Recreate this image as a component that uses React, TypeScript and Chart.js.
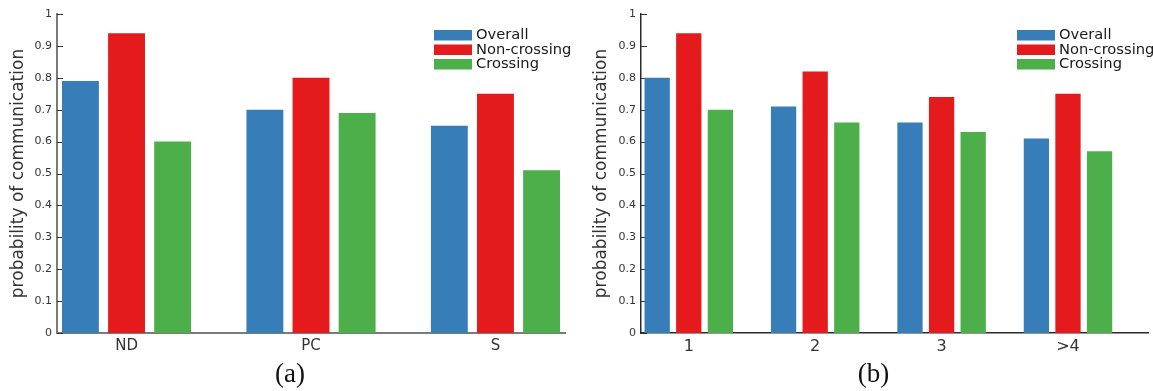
import React, { useEffect, useRef } from 'react';
import { Chart, registerables } from 'chart.js';

Chart.register(...registerables);

// Series shared by both panels
const seriesNames = ['Overall', 'Non-crossing', 'Crossing'];
const seriesColors = ['#377eb8', '#e41a1c', '#4daf4a'];

// Panel (a): by category
const panelACategories = ['ND', 'PC', 'S'];
const panelAOverall = [0.79, 0.7, 0.65];
const panelANonCrossing = [0.94, 0.8, 0.75];
const panelACrossing = [0.6, 0.69, 0.51];

// Panel (b): by count
const panelBCategories = ['1', '2', '3', '>4'];
const panelBOverall = [0.8, 0.71, 0.66, 0.61];
const panelBNonCrossing = [0.94, 0.82, 0.74, 0.75];
const panelBCrossing = [0.7, 0.66, 0.63, 0.57];

// Y axis
const yTickValues = [0, 0.1, 0.2, 0.3, 0.4, 0.5, 0.6, 0.7, 0.8, 0.9, 1];
const yTickLabels = ['0', '0.1', '0.2', '0.3', '0.4', '0.5', '0.6', '0.7', '0.8', '0.9', '1'];
const yAxisTitle = 'probability of communication';

const SANS = "'DejaVu Sans', sans-serif";
const SERIF = "'Liberation Serif', 'DejaVu Serif', serif";
const HEIGHT = 391;

type PanelSpec = {
  caption: string;
  categories: string[];
  series: number[][];
  left: number;
  width: number;
  axisWidth: number;
  rightPad: number;
  xMin: number;
  xMax: number;
  axisColor: string;
  axisLineWidth: number;
  xTickSize: number;
  titlePad: number;
};

const panels: PanelSpec[] = [
  {
    caption: '(a)',
    categories: panelACategories,
    series: [panelAOverall, panelANonCrossing, panelACrossing],
    left: 0,
    width: 576,
    axisWidth: 57,
    rightPad: 11,
    xMin: -0.377,
    xMax: 2.377,
    axisColor: '#7a7a7a',
    axisLineWidth: 2,
    xTickSize: 15,
    titlePad: 8,
  },
  {
    caption: '(b)',
    categories: panelBCategories,
    series: [panelBOverall, panelBNonCrossing, panelBCrossing],
    left: 576,
    width: 577,
    axisWidth: 65,
    rightPad: 5,
    xMin: -0.378,
    xMax: 3.633,
    axisColor: '#2a2a2a',
    axisLineWidth: 1.5,
    xTickSize: 16,
    titlePad: 15,
  },
];

function makeDecorations(spec: PanelSpec) {
  return {
    id: 'panelDecorations',
    // inward tick marks on the value axis
    beforeDatasetsDraw(chart: any) {
      const { ctx, chartArea } = chart;
      const yScale = chart.scales.y;
      ctx.save();
      ctx.strokeStyle = '#333';
      ctx.lineWidth = 1;
      yTickValues.forEach((v) => {
        const y = Math.round(yScale.getPixelForValue(v)) + 0.5;
        ctx.beginPath();
        ctx.moveTo(chartArea.left, y);
        ctx.lineTo(chartArea.left + 6, y);
        ctx.stroke();
      });
      ctx.restore();
    },
    afterDraw(chart: any) {
      const { ctx, chartArea } = chart;
      ctx.save();
      // legend in the upper right of the plot
      const x0 = chartArea.right - 131;
      const y0 = chartArea.top + 16;
      ctx.font = `14.7px ${SANS}`;
      ctx.textBaseline = 'middle';
      ctx.textAlign = 'left';
      seriesNames.forEach((name, i) => {
        const y = y0 + i * 14.5;
        ctx.fillStyle = seriesColors[i];
        ctx.fillRect(x0, y, 38, 10.5);
        ctx.fillStyle = '#1a1a1a';
        ctx.fillText(name, x0 + 42, y + 5.5);
      });
      // panel caption
      ctx.font = `27px ${SERIF}`;
      ctx.fillStyle = '#111';
      ctx.textAlign = 'center';
      ctx.textBaseline = 'alphabetic';
      ctx.fillText(spec.caption, (chartArea.left + chartArea.right) / 2 - 21, 382);
      ctx.restore();
    },
  };
}

function Panel({ spec }: { spec: PanelSpec }) {
  const ref = useRef<HTMLCanvasElement>(null);

  useEffect(() => {
    if (!ref.current) return;
    const datasets = spec.series.map((values, s) => ({
      label: seriesNames[s],
      data: values.map((v, i) => ({ x: i, y: v })),
      backgroundColor: seriesColors[s],
      borderWidth: 0,
      categoryPercentage: 0.75,
      barPercentage: 0.8,
    }));

    const chart = new Chart(ref.current, {
      type: 'bar',
      data: { datasets },
      options: {
        responsive: false,
        animation: false,
        devicePixelRatio: 1,
        layout: { padding: { left: 0, right: spec.rightPad, top: 14, bottom: 0 } },
        plugins: {
          legend: { display: false },
          tooltip: { enabled: false },
        },
        scales: {
          x: {
            type: 'linear',
            min: spec.xMin,
            max: spec.xMax,
            offset: false,
            z: 1,
            grid: { display: false, drawTicks: false },
            border: { display: true, color: spec.axisColor, width: spec.axisLineWidth },
            afterBuildTicks: (scale: any) => {
              scale.ticks = spec.categories.map((_, i) => ({ value: i }));
            },
            afterFit: (scale: any) => {
              scale.height = HEIGHT - 333;
            },
            ticks: {
              autoSkip: false,
              maxRotation: 0,
              minRotation: 0,
              padding: 4,
              color: '#333',
              font: { family: SANS, size: spec.xTickSize },
              callback: (value: any) => spec.categories[Math.round(Number(value))] ?? '',
            },
          },
          y: {
            type: 'linear',
            min: 0,
            max: 1,
            z: 1,
            grid: { display: false, drawTicks: false },
            border: { display: true, color: spec.axisColor, width: spec.axisLineWidth },
            afterBuildTicks: (scale: any) => {
              scale.ticks = yTickValues.map((value) => ({ value }));
            },
            afterFit: (scale: any) => {
              scale.width = spec.axisWidth;
            },
            ticks: {
              padding: 5,
              color: '#333',
              font: { family: SANS, size: 11 },
              callback: (_value: any, index: number) => yTickLabels[index],
            },
            title: {
              display: true,
              text: yAxisTitle,
              color: '#333',
              font: { family: SANS, size: 17 },
              padding: { top: spec.titlePad, bottom: 0 },
            },
          },
        },
      } as any,
      plugins: [makeDecorations(spec)],
    });

    return () => chart.destroy();
  }, [spec]);

  return (
    <canvas
      ref={ref}
      width={spec.width}
      height={HEIGHT}
      style={{ position: 'absolute', left: spec.left, top: 0, width: spec.width, height: HEIGHT }}
    />
  );
}

export default function App() {
  return (
    <div
      style={{
        position: 'absolute',
        left: 0,
        top: 0,
        width: 1153,
        height: HEIGHT,
        background: '#fff',
        overflow: 'hidden',
      }}
    >
      {panels.map((p) => (
        <Panel key={p.caption} spec={p} />
      ))}
    </div>
  );
}
